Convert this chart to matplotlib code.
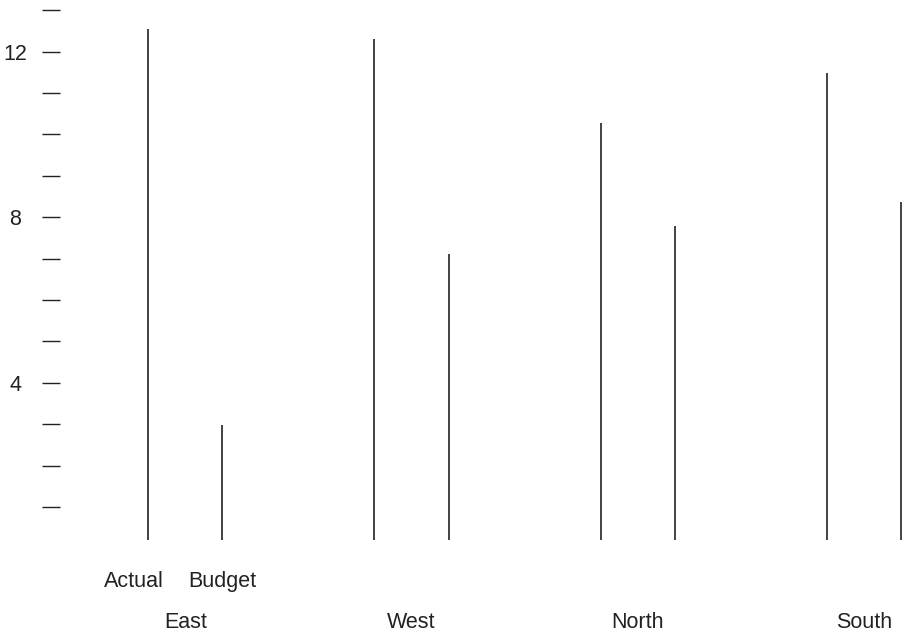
import matplotlib
matplotlib.use("Agg")

import matplotlib.pyplot as plt
import numpy as np


REGIONS = ["East", "West", "North", "South"]
SERIES = ["Actual", "Budget"]
ACTUAL = [12.55, 12.31, 10.28, 11.49]
BUDGET = [2.97, 7.10, 7.78, 8.36]
Y_TICKS = list(range(1, 14))
Y_LABELS = {4: "4", 8: "8", 12: "12"}

# layout in pixels at dpi 100
W, H = 902, 634
BASE = 0.2
TOP = 13.25
GROUP_PX = 226.3

plt.rcParams["font.family"] = ["Liberation Sans", "DejaVu Sans"]

fig = plt.figure(figsize=(W / 100, H / 100), dpi=100)
ax = fig.add_axes([60 / W, (H - 540) / H, 846 / W, 540 / H])

step = 0.329
x_groups = np.arange(len(REGIONS))

for j, vals in enumerate([ACTUAL, BUDGET]):
    ax.vlines(x_groups + j * step, BASE, vals, colors="#222222",
              linewidth=1.2, clip_on=False)

ax.set_xlim(-88 / GROUP_PX, -88 / GROUP_PX + 846 / GROUP_PX)
ax.set_ylim(BASE, TOP)

for s in ax.spines.values():
    s.set_visible(False)

ax.set_xticks([])
ax.set_yticks(Y_TICKS)
ax.set_yticklabels([Y_LABELS.get(t, "") for t in Y_TICKS])
ax.tick_params(axis="y", direction="out", length=13.2, width=1.0,
               color="#222222", pad=19.2, labelsize=15.5, labelcolor="#222222")
for lab in ax.get_yticklabels():
    lab.set_ha("center")

# sub labels only under the first group
sub_x = [-0.064, step]
for name, xs in zip(SERIES, sub_x):
    ax.annotate(name, xy=(xs, 0), xycoords=("data", "axes fraction"),
                xytext=(0, -47 * 0.72), textcoords="offset points",
                ha="center", va="baseline", fontsize=15.5, color="#222222")

for i, name in enumerate(REGIONS):
    ax.annotate(name, xy=(i + step / 2, 0), xycoords=("data", "axes fraction"),
                xytext=(0, -88 * 0.72), textcoords="offset points",
                ha="center", va="baseline", fontsize=15.5, color="#222222")

fig.savefig("out.png", dpi=100)
